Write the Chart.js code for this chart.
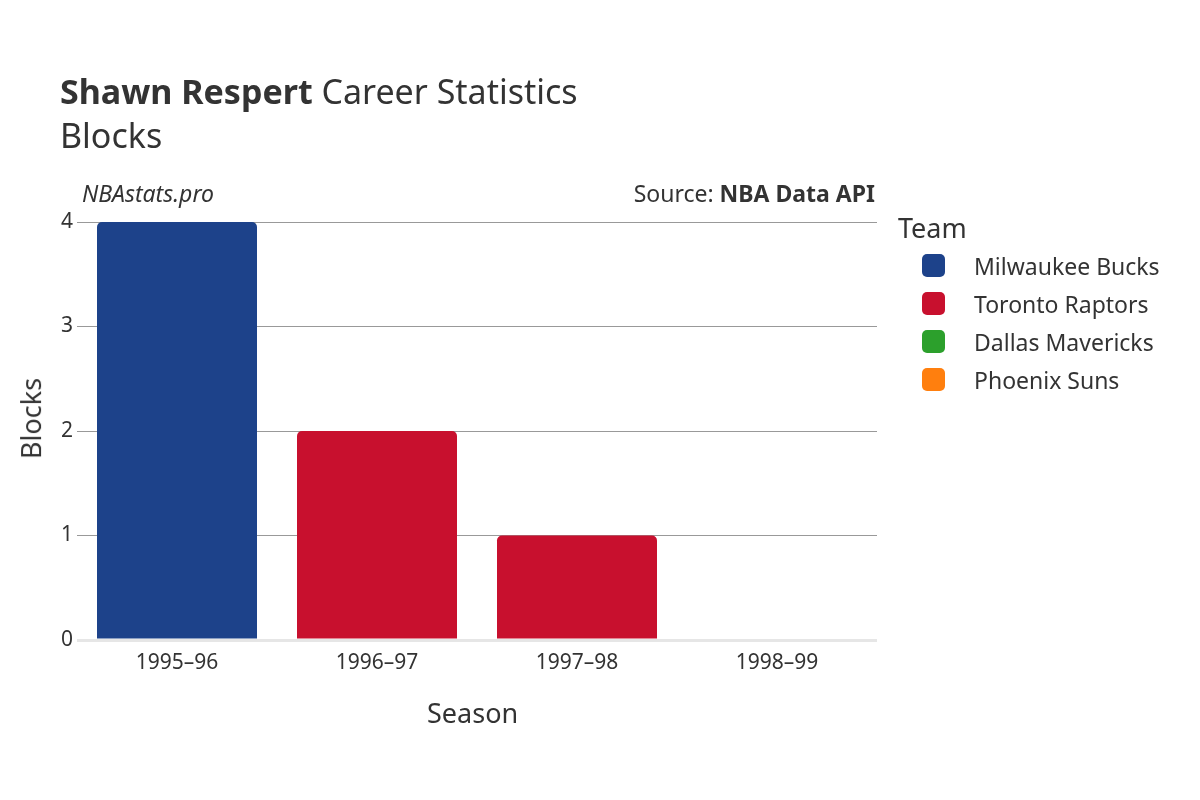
<!DOCTYPE html>
<html><head><meta charset="utf-8">
<script src="https://cdn.jsdelivr.net/npm/chart.js@4/dist/chart.umd.min.js"></script>
<style>
body{margin:0;width:1200px;height:800px;background:#fff;font-family:"Noto Sans",sans-serif;color:#333;position:relative;overflow:hidden}
.t{position:absolute;white-space:nowrap}
#legend .row{position:absolute;left:922px;font-size:23px}
#legend .sw{position:absolute;left:0;top:4px;width:23px;height:23px;border-radius:5px}
</style></head><body>
<canvas id="myChart" width="1200" height="800" style="position:absolute;left:0;top:0"></canvas>
<div class="t" style="left:60px;top:68px;font-size:34px"><b>Shawn Respert</b> Career Statistics</div>
<div class="t" style="left:60px;top:112px;font-size:34px">Blocks</div>
<div class="t" style="left:82px;top:177px;font-size:23px;font-style:italic">NBAstats.pro</div>
<div class="t" style="right:325px;top:177px;font-size:23px">Source: <b>NBA Data API</b></div>
<div class="t" style="left:427px;top:694px;font-size:27px">Season</div>
<div class="t" style="left:-10px;top:400px;font-size:27px;transform:rotate(-90deg);transform-origin:center">Blocks</div>
<div class="t" style="left:898px;top:209px;font-size:27px">Team</div>
<div id="legend"></div>
<script>
// data
var seasons = ['1995–96', '1996–97', '1997–98', '1998–99']
var teams = ['Milwaukee Bucks', 'Toronto Raptors', 'Dallas Mavericks', 'Phoenix Suns']
var colors = ['#1d428a', '#c8102e', '#2ca02c', '#ff7f0e']
var bucks = [4, null, null, null]
var raptors = [null, 2, 1, null]
var mavs = [null, null, null, 0]
var suns = [null, null, null, 0]
var yTicks = [0, 1, 2, 3, 4]

//html legend
var lg = document.getElementById('legend')
teams.forEach(function(t, i) {
  var r = document.createElement('div')
  r.className = 'row'
  r.style.top = (250 + i * 38) + 'px'
  r.innerHTML = '<span class="sw" style="background:' + colors[i] + '"></span><span style="margin-left:52px">' + t + '</span>'
  lg.appendChild(r)
})

var ctx = document.getElementById('myChart').getContext('2d');
var series = [bucks, raptors, mavs, suns]
new Chart(ctx, {
  type: 'bar',
  data: {
    labels: seasons,
    datasets: teams.map(function(t, i) {
      return {label: t, data: series[i], backgroundColor: colors[i], borderRadius: 5, borderSkipped: 'bottom',
        categoryPercentage: 0.8, barPercentage: 1}
    })
  },
  options: {
    responsive: false,
    animation: false,
    layout: {padding: {left: 0, right: 323, top: 222, bottom: 0}},
    plugins: {legend: {display: false}, tooltip: {enabled: false}},
    scales: {
      x: {
        stacked: true,
        grid: {display: false},
        border: {display: false},
        ticks: {color: '#333', font: {family: 'Noto Sans', size: 21}, padding: 2},
        afterFit: function(s) { s.height = 160 }
      },
      y: {
        stacked: true,
        min: 0, max: 4,
        afterBuildTicks: function(s) { s.ticks = yTicks.map(function(v) { return {value: v} }) },
        grid: {
          color: function(c) { return c.tick.value === 0 ? '#e6e6e6' : '#999' },
          lineWidth: function(c) { return c.tick.value === 0 ? 3 : 1 },
          drawTicks: false
        },
        border: {display: false},
        ticks: {color: '#333', font: {family: 'Noto Sans', size: 21}, padding: 4},
        afterFit: function(s) { s.width = 77 }
      }
    }
  }
});
</script>
</body></html>
